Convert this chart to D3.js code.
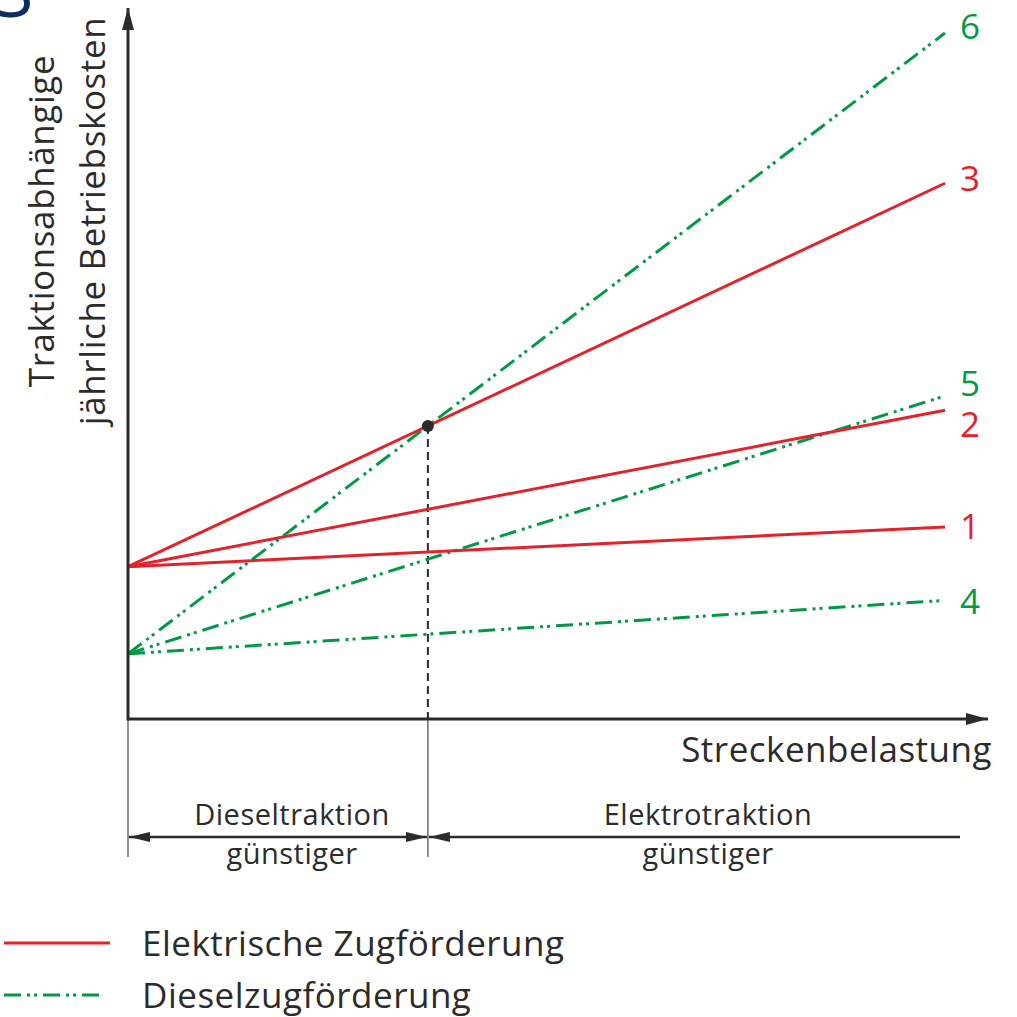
<!DOCTYPE html>
<html>
<head>
<meta charset="utf-8">
<script src="https://cdn.jsdelivr.net/npm/d3@7"></script>
<style>
  html, body { margin: 0; padding: 0; background: #fff; }
  svg { display: block; font-family: "Open Sans", sans-serif; }
</style>
</head>
<body>
<svg width="1017" height="1017"></svg>
<script>
// line ids, type and start/end values (relative cost units)
const lineIds = ["1", "2", "3", "4", "5", "6"];
const lineType = ["el", "el", "el", "di", "di", "di"];
const startValues = [22.2, 22.2, 22.2, 9.5, 9.5, 9.5];
const endValues = [28, 45, 78.1, 17.3, 47.1, 100];
const xStart = 0, xEnd = 10;

const legendLabels = ["Elektrische Zugförderung", "Dieselzugförderung"];
const zoneLabels = [["Dieseltraktion", "günstiger"], ["Elektrotraktion", "günstiger"]];
const xLabel = "Streckenbelastung";
const yLabel = ["Traktionsabhängige", "jährliche Betriebskosten"];

const red = "#e3222b", green = "#009a47", dark = "#2b2b2b";
const dieselDash = "17,6,3,4,3,6";

const x = d3.scaleLinear().domain([0, 10]).range([128, 945]);
const y = d3.scaleLinear().domain([0, 100]).range([719, 33]);

const svg = d3.select("svg");

const defs = svg.append("defs");
defs.append("marker")
    .attr("id", "arrowBig")
    .attr("viewBox", "0 0 22 12")
    .attr("refX", 22).attr("refY", 6)
    .attr("markerWidth", 22).attr("markerHeight", 12)
    .attr("markerUnits", "userSpaceOnUse")
    .attr("orient", "auto")
    .append("path").attr("d", "M0,0 L22,6 L0,12 Z").attr("fill", dark);
defs.append("marker")
    .attr("id", "arrowSmall")
    .attr("viewBox", "0 0 21 10")
    .attr("refX", 21).attr("refY", 5)
    .attr("markerWidth", 21).attr("markerHeight", 10)
    .attr("markerUnits", "userSpaceOnUse")
    .attr("orient", "auto-start-reverse")
    .append("path").attr("d", "M0,0 L21,5 L0,10 Z").attr("fill", dark);

// partial heading glyph cut off at top-left
svg.append("text")
    .attr("x", -6).attr("y", 17)
    .attr("font-size", 72)
    .attr("fill", "#0b2f5e")
    .text("S");

// intersection of line 3 and line 6
const l3 = 2, l6 = 5;
const s3 = (endValues[l3] - startValues[l3]) / (xEnd - xStart);
const s6 = (endValues[l6] - startValues[l6]) / (xEnd - xStart);
const xi = (startValues[l3] - startValues[l6]) / (s6 - s3);
const yi = startValues[l3] + s3 * xi;

// thin guide lines below the axis
const guideBottom = 857;
svg.append("g")
    .attr("stroke", "#555").attr("stroke-width", 1.3)
    .selectAll("line")
    .data([0, xi])
    .join("line")
    .attr("x1", d => x(d)).attr("x2", d => x(d))
    .attr("y1", y(0)).attr("y2", guideBottom);

// dashed drop line
svg.append("line")
    .attr("x1", x(xi)).attr("x2", x(xi))
    .attr("y1", y(yi)).attr("y2", y(0))
    .attr("stroke", dark).attr("stroke-width", 2)
    .attr("stroke-dasharray", "8,5");

// data lines
const lines = lineIds.map((id, i) => ({
  id, type: lineType[i],
  pts: [[xStart, startValues[i]], [xEnd, endValues[i]]]
}));
const line = d3.line().x(d => x(d[0])).y(d => y(d[1]));

// diesel first, electric on top
svg.append("g")
    .attr("fill", "none")
    .selectAll("path")
    .data(lines.filter(d => d.type === "di").concat(lines.filter(d => d.type === "el")))
    .join("path")
    .attr("d", d => line(d.pts))
    .attr("stroke", d => d.type === "el" ? red : green)
    .attr("stroke-width", 3)
    .attr("stroke-dasharray", d => d.type === "el" ? null : dieselDash);

// axes
svg.append("line")
    .attr("x1", x(0)).attr("y1", y(0))
    .attr("x2", 988).attr("y2", y(0))
    .attr("stroke", dark).attr("stroke-width", 3)
    .attr("marker-end", "url(#arrowBig)");
svg.append("line")
    .attr("x1", x(0)).attr("y1", y(0) + 1.5)
    .attr("x2", x(0)).attr("y2", 8)
    .attr("stroke", dark).attr("stroke-width", 3)
    .attr("marker-end", "url(#arrowBig)");

// intersection point
svg.append("circle")
    .attr("cx", x(xi)).attr("cy", y(yi)).attr("r", 6)
    .attr("fill", dark);

// line numbers
const labelDy = { "1": 12, "2": 27, "3": 8, "4": 14, "5": 0, "6": 6 };
svg.append("g")
    .attr("font-size", 35)
    .selectAll("text")
    .data(lines)
    .join("text")
    .attr("x", 960)
    .attr("y", d => y(d.pts[1][1]) + labelDy[d.id])
    .attr("fill", d => d.type === "el" ? red : green)
    .text(d => d.id);

// axis labels
svg.append("text")
    .attr("x", 992).attr("y", 762)
    .attr("text-anchor", "end")
    .attr("font-size", 35).attr("letter-spacing", 0.5)
    .attr("fill", dark)
    .text(xLabel);

svg.append("g")
    .attr("transform", "translate(0,221) rotate(-90)")
    .attr("font-size", 35).attr("letter-spacing", 0.6)
    .attr("fill", dark)
    .attr("text-anchor", "middle")
    .selectAll("text")
    .data(yLabel)
    .join("text")
    .attr("x", 0)
    .attr("y", (d, i) => 54 + i * 51)
    .text(d => d);

// zone arrows and labels
const arrowY = 837;
svg.append("line")
    .attr("x1", x(0) + 1).attr("x2", x(xi) - 1)
    .attr("y1", arrowY).attr("y2", arrowY)
    .attr("stroke", dark).attr("stroke-width", 2.5)
    .attr("marker-start", "url(#arrowSmall)")
    .attr("marker-end", "url(#arrowSmall)");
svg.append("line")
    .attr("x1", x(xi) + 1).attr("x2", 960)
    .attr("y1", arrowY).attr("y2", arrowY)
    .attr("stroke", dark).attr("stroke-width", 2.5)
    .attr("marker-start", "url(#arrowSmall)");

const zoneCenters = [292, 708];
zoneLabels.forEach((lab, i) => {
  const g = svg.append("g")
      .attr("font-size", 29).attr("letter-spacing", 0.5)
      .attr("fill", dark)
      .attr("text-anchor", "middle");
  g.append("text").attr("x", zoneCenters[i]).attr("y", 825).text(lab[0]);
  g.append("text").attr("x", zoneCenters[i]).attr("y", 864).text(lab[1]);
});

// legend
const legend = svg.append("g");
legendLabels.forEach((lab, i) => {
  const ly = 943 + i * 52;
  legend.append("line")
      .attr("x1", 4).attr("x2", i === 0 ? 110 : 103)
      .attr("y1", ly).attr("y2", ly)
      .attr("stroke", i === 0 ? red : green)
      .attr("stroke-width", 3)
      .attr("stroke-dasharray", i === 0 ? null : dieselDash);
  legend.append("text")
      .attr("x", 142).attr("y", ly + 13)
      .attr("font-size", 35).attr("letter-spacing", 0.5)
      .attr("fill", dark)
      .text(lab);
});
</script>
</body>
</html>
